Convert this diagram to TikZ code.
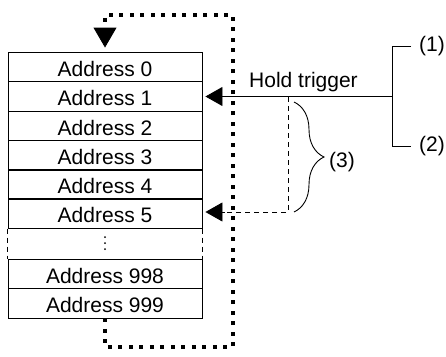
\documentclass[tikz,border=0pt]{standalone}
\usepackage{fontspec}
\setmainfont{Liberation Sans}
\usetikzlibrary{arrows.meta,decorations.pathreplacing}
\begin{document}
\begin{tikzpicture}[x=1pt,y=-1pt,
  every node/.style={font=\fontsize{21}{24}\selectfont, text=black, inner sep=0pt},
  cell/.style={draw=black, line width=0.9pt, minimum width=194pt, minimum height=29.5pt},
  loopline/.style={line width=3.8pt, dash pattern=on 3.8pt off 6.7pt},
  thinline/.style={line width=0.9pt, black},
  thindash/.style={line width=0.9pt, dash pattern=on 5pt off 4pt},
  bigtip/.style={-{Triangle[length=20pt,width=23pt]}},
  midtip/.style={-{Triangle[length=17pt,width=19pt]}},
  label/.style={anchor=west}
]
\useasboundingbox (0,0) rectangle (446,356);
% table rows
\node[cell] (a0) at (105,66.75) {};
\node[cell] (a1) at (105,96.25) {};
\node[cell] (a2) at (105,125.75) {};
\node[cell] (a3) at (105,155.25) {};
\node[cell] (a4) at (105,184.5) {};
\node[cell] (a5) at (105,213.5) {};
\node[cell] (a998) at (105,273.75) {};
\node[cell] (a999) at (105,303.25) {};
\node[anchor=base] (t0) at (105,76) {Address 0};
\node[anchor=base] (t1) at (105,105.5) {Address 1};
\node[anchor=base] (t2) at (105,135) {Address 2};
\node[anchor=base] (t3) at (105,164.5) {Address 3};
\node[anchor=base] (t4) at (105,193.75) {Address 4};
\node[anchor=base] (t5) at (105,222.75) {Address 5};
\node[anchor=base] (t998) at (105,283) {Address 998};
\node[anchor=base] (t999) at (105,312.5) {Address 999};
% dashed sides
\draw[thindash] (a5.south west) -- (a998.north west);
\draw[thindash] (a5.south east) -- (a998.north east);
% vertical dots
\fill (105,237) circle (1pt);
\fill (105,243) circle (1pt);
\fill (105,249) circle (1pt);
% loop
\coordinate (lb) at (105,347);
\coordinate (rb) at (233,347);
\coordinate (rt) at (233,15);
\coordinate (lt) at (105,15);
\coordinate (ah) at (105,28);
\draw[loopline] (a999.south) -- (lb) -- (rb) -- (rt) -- (lt) -- (ah);
\draw[bigtip, line width=0.9pt, shorten >=4pt] (ah) -- (a0.north);
% bracket (1)/(2)
\coordinate (b1) at (411,46);
\coordinate (b1c) at (392.7,46);
\coordinate (bm) at (392.7,96.5);
\coordinate (b2c) at (392.7,146);
\coordinate (b2) at (411,146);
\draw[thinline] (b1) -- (b1c) -- (b2c) -- (b2);
\node[label] (l1) at (419,46) {(1)};
\node[label] (l2) at (419,146) {(2)};
% hold trigger
\draw[thinline, midtip, shorten >=3pt] (bm) -- (a1.east |- bm);
\node[anchor=base west] (ht) at (249,87) {Hold trigger};
% dashed path to address 5
\coordinate (d1) at (288,97);
\coordinate (d2) at (288,212);
\draw[thindash] (d1) -- (d2) -- (222,212);
\draw[thinline, midtip, shorten >=3pt] (225,212) -- (a5.east |- d2);
% brace
\coordinate (br1) at (294,102);
\coordinate (br2) at (294,212);
\draw[thinline, decorate, decoration={brace, amplitude=30pt}] (br1) -- (br2);
\node[label] (l3) at (329,162) {(3)};
\end{tikzpicture}
\end{document}
